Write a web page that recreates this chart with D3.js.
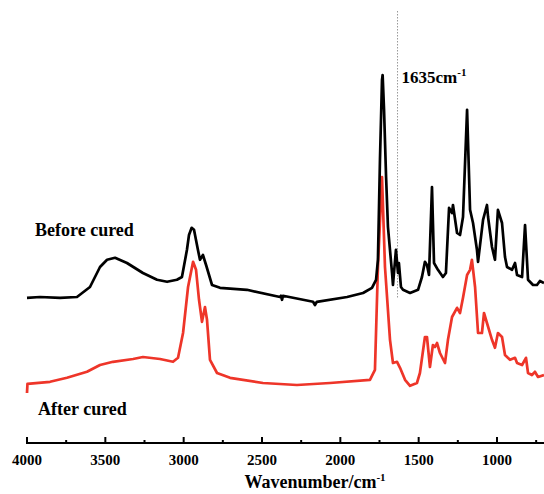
<!DOCTYPE html>
<html>
<head>
<meta charset="utf-8">
<script src="https://cdn.jsdelivr.net/npm/d3@7"></script>
<style>
  body { margin: 0; background: #fff; }
  svg text { font-family: "Liberation Serif", "Times New Roman", serif; font-weight: bold; }
</style>
</head>
<body>
<div id="chart"></div>
<script>
// FTIR spectra, intensities (arbitrary units)
var wnBefore = [4000, 3917, 3789, 3681, 3598, 3534, 3489, 3438, 3362, 3260, 3170, 3106, 3043, 3011,
  2979, 2966, 2949, 2934, 2909, 2896, 2877, 2857, 2819, 2768, 2596, 2385, 2379, 2372, 2366,
  2174, 2162, 2150, 1957, 1855, 1798, 1772, 1760, 1747, 1734, 1730, 1721, 1708, 1696, 1670,
  1664, 1645, 1632, 1626, 1613, 1600, 1555, 1504, 1479, 1460, 1447, 1434, 1415, 1402, 1377,
  1345, 1326, 1306, 1287, 1281, 1255, 1236, 1217, 1191, 1172, 1153, 1128, 1121, 1089, 1064,
  1057, 1032, 1013, 994, 968, 949, 936, 904, 885, 872, 840, 821, 802, 770, 745, 726, 700];
var absBefore = [36.3, 36.5, 36.3, 36.5, 39, 44, 45.8, 46.3, 45, 42.5, 40.8, 40.3, 40.8, 41.5,
  48.3, 52, 53.8, 53.3, 48.3, 45.8, 47, 44.5, 39.5, 38.8, 38.3, 36.5, 36.8, 35.8, 36.8,
  35.3, 34.5, 35.3, 36.5, 37.5, 38.8, 40.8, 45.8, 70.8, 90.8, 92, 83.3, 66.5, 54, 42.5,
  39.5, 48.3, 42.5, 45, 39, 38.3, 37.5, 38.3, 41.5, 45.3, 44.5, 42, 64, 45, 43.3,
  41.5, 42.5, 58.8, 57.5, 59.5, 52.5, 52, 56.5, 83.3, 58.3, 55, 48.3, 45.3, 55.8, 59.5,
  56.5, 49, 45.8, 58.3, 55, 46.5, 44, 43.3, 45, 42, 41.5, 54.5, 40.8, 39.5, 39.5, 40.5, 40];

var wnAfter = [4000, 3997, 3853, 3745, 3617, 3534, 3451, 3323, 3260, 3151, 3068, 3036, 3004,
  2972, 2940, 2921, 2902, 2883, 2864, 2851, 2832, 2787, 2704, 2494, 2277, 2066, 1811, 1779,
  1760, 1734, 1715, 1683, 1664, 1638, 1619, 1587, 1555, 1511, 1492, 1460, 1447, 1428, 1409,
  1396, 1383, 1364, 1332, 1313, 1287, 1255, 1236, 1217, 1191, 1172, 1160, 1140, 1121, 1096,
  1083, 1064, 1032, 1013, 994, 968, 949, 917, 885, 872, 840, 815, 802, 777, 758, 738, 700];
var absAfter = [12.5, 14.8, 15.3, 16.3, 17.8, 19.5, 20.3, 21, 21.5, 21, 20.3, 21.3, 27.5,
  39, 45.3, 43.3, 35.8, 30.3, 34, 30.8, 20.8, 17.5, 16.3, 15, 14.5, 15, 15.8, 18.3,
  44, 66.5, 44, 25.8, 20, 20.3, 18.8, 15.8, 14.3, 15, 17.5, 26.5, 26.5, 19, 24.5,
  24, 25, 22.5, 20, 25.8, 31.5, 33.8, 32.5, 36.3, 42, 43.3, 45.8, 39, 27.5, 27.5,
  32.5, 30, 25.8, 23.8, 27.5, 26.5, 22, 20.8, 21.3, 20, 19.5, 21.3, 17.5, 17, 17.8, 16.5, 17];

var majorTicks = [4000, 3500, 3000, 2500, 2000, 1500, 1000];
var minorTicks = [3750, 3250, 2750, 2250, 1750, 1250, 750];
var markerWn = 1635;
var markerSpan = [36, 108];

var width = 544, height = 494;

var svg = d3.select("#chart").append("svg")
    .attr("width", width)
    .attr("height", height);

var x = d3.scaleLinear().domain([4000, 700]).range([27, 544]);
var y = d3.scaleLinear().domain([0, 100]).range([443, 43]);

var line = d3.line()
    .x(function (d) { return x(d[0]); })
    .y(function (d) { return y(d[1]); });

// dotted marker at 1635
svg.append("line")
    .attr("x1", x(markerWn)).attr("x2", x(markerWn))
    .attr("y1", y(markerSpan[1])).attr("y2", y(markerSpan[0]))
    .attr("stroke", "#999")
    .attr("stroke-width", 1)
    .attr("stroke-dasharray", "1.5,1.5");

svg.append("text")
    .attr("x", x(markerWn) + 4)
    .attr("y", 83)
    .attr("font-size", 17)
    .html('1635cm<tspan dy="-7" font-size="11">-1</tspan>');

svg.append("path")
    .datum(d3.zip(wnAfter, absAfter))
    .attr("fill", "none")
    .attr("stroke", "#ee3529")
    .attr("stroke-width", 2.7)
    .attr("stroke-linejoin", "round")
    .attr("d", line);

svg.append("path")
    .datum(d3.zip(wnBefore, absBefore))
    .attr("fill", "none")
    .attr("stroke", "#000")
    .attr("stroke-width", 2.7)
    .attr("stroke-linejoin", "round")
    .attr("d", line);

svg.append("text").attr("x", 35).attr("y", 236).attr("font-size", 18).text("Before cured");
svg.append("text").attr("x", 38).attr("y", 415).attr("font-size", 18).text("After cured");

// x axis, ticks pointing inward
var axisG = svg.append("g").attr("transform", "translate(0," + y(0) + ")");
axisG.append("line")
    .attr("x1", x(4000) - 1).attr("x2", width)
    .attr("stroke", "#000").attr("stroke-width", 2);
axisG.selectAll(".major").data(majorTicks).enter().append("line")
    .attr("x1", function (d) { return x(d); }).attr("x2", function (d) { return x(d); })
    .attr("y1", 0).attr("y2", -6)
    .attr("stroke", "#000").attr("stroke-width", 2);
axisG.selectAll(".minor").data(minorTicks).enter().append("line")
    .attr("x1", function (d) { return x(d); }).attr("x2", function (d) { return x(d); })
    .attr("y1", 0).attr("y2", -3)
    .attr("stroke", "#000").attr("stroke-width", 2);
axisG.selectAll(".lbl").data(majorTicks).enter().append("text")
    .attr("x", function (d) { return x(d); })
    .attr("y", 22)
    .attr("text-anchor", "middle")
    .attr("font-size", 15)
    .text(function (d) { return d; });

svg.append("text")
    .attr("x", 315)
    .attr("y", 488)
    .attr("text-anchor", "middle")
    .attr("font-size", 18)
    .html('Wavenumber/cm<tspan dy="-7" font-size="11">-1</tspan>');
</script>
</body>
</html>
